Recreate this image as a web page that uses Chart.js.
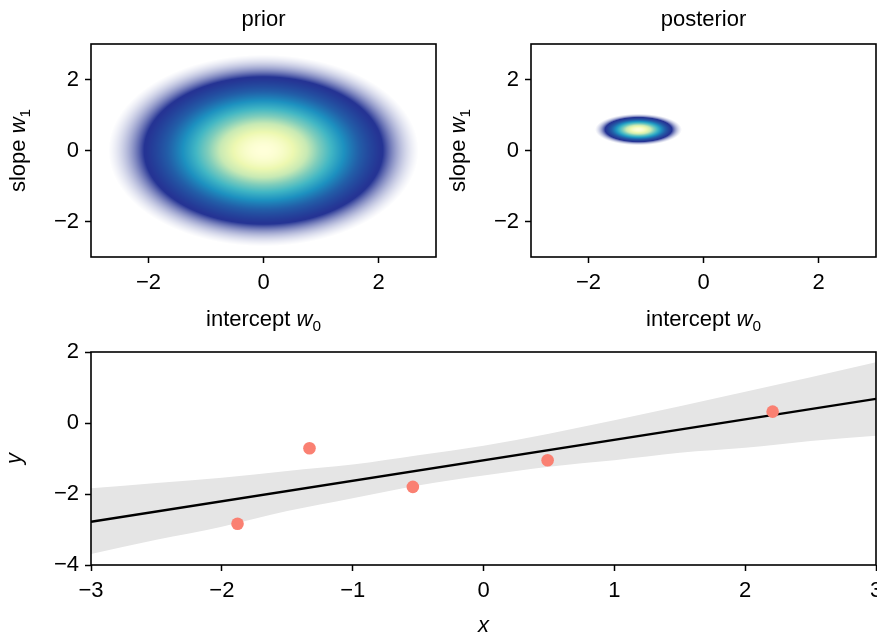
<!DOCTYPE html>
<html><head><meta charset="utf-8">
<script src="https://cdn.jsdelivr.net/npm/chart.js@4.4.0/dist/chart.umd.min.js"></script>
<style>
html,body{margin:0;padding:0;background:#fff;}
body{width:877px;height:637px;position:relative;overflow:hidden;}
canvas{position:absolute;}
</style></head><body>
<canvas id="c1" width="450" height="340" style="left:0;top:0"></canvas>
<canvas id="c2" width="454" height="340" style="left:437px;top:0"></canvas>
<canvas id="c3" width="891" height="297" style="left:0;top:340px"></canvas>
<script>
// ---------------- data ----------------
const wTicks = [-2, 0, 2];
const wRange = [-3, 3];
const priorMean = [0, 0];
const priorStd = [1, 1];
const posteriorMean = [-1.13, 0.59];
const posteriorStd = [0.28, 0.165];

const xTicks = [-3, -2, -1, 0, 1, 2, 3];
const yTicks = [-4, -2, 0, 2];
const xRange = [-3, 3];
const yRange = [-4, 2];

const obsX = [-1.88, -1.33, -0.54, 0.49, 2.21];
const obsY = [-2.84, -0.71, -1.80, -1.05, 0.32];

const fitX = [-3, 3];
const fitY = [-2.78, 0.68];

const bandX     = [-3, -2.5, -2, -1.5, -1, -0.5, 0, 0.5, 1, 1.5, 2, 2.5, 3];
const bandUpper = [-1.84, -1.69, -1.54, -1.35, -1.17, -0.91, -0.64, -0.30, 0.08, 0.47, 0.88, 1.29, 1.71];
const bandLower = [-3.69, -3.29, -2.92, -2.48, -2.12, -1.76, -1.48, -1.23, -1.05, -0.84, -0.70, -0.51, -0.36];

// colormap (YlGnBu, reversed: high density = light yellow)
const cmapStops = ['#ffffd9', '#edf8b1', '#c7e9b4', '#7fcdbb', '#41b6c4', '#1d91c0', '#225ea8', '#253494'];

// ---------------- helpers ----------------
const FONT = '"Liberation Sans", Arial, Helvetica, sans-serif';
const FS = 22;
Chart.defaults.font.family = FONT;
Chart.defaults.font.size = FS;
Chart.defaults.color = '#000';

function hex2rgb(h){ return [parseInt(h.slice(1,3),16), parseInt(h.slice(3,5),16), parseInt(h.slice(5,7),16)]; }
const stopRGB = cmapStops.map(hex2rgb);
function colorFor(p){
  let s = (1 - p) / 0.125;
  if (s < 0) s = 0;
  if (s > stopRGB.length - 1) s = stopRGB.length - 1;
  const i = Math.min(Math.floor(s), stopRGB.length - 2);
  const f = s - i;
  const a = stopRGB[i], b = stopRGB[i+1];
  const c = [0,1,2].map(k => a[k] + (b[k]-a[k]) * f);
  let alpha = Math.max(0, Math.min(1, (p - 0.026) / 0.09));
  alpha = Math.pow(alpha, 1.1);
  return {alpha, rgb: c.map(v => Math.round(255 + (v - 255) * alpha))};
}
// one cell per screen pixel of the 345 x 213 plot area
const NX = 345, NY = 213;
function buildCells(mean, std){
  const pts = [], cols = [];
  for (let i = 0; i < NX; i++){
    for (let j = 0; j < NY; j++){
      const x = wRange[0] + (i + 0.5) * (wRange[1]-wRange[0]) / NX;
      const y = wRange[0] + (j + 0.5) * (wRange[1]-wRange[0]) / NY;
      const dx = (x - mean[0]) / std[0], dy = (y - mean[1]) / std[1];
      const p = Math.exp(-0.5 * (dx*dx + dy*dy));
      const c = colorFor(p);
      if (c.alpha < 0.006) continue;
      pts.push({x, y});
      cols.push('rgb(' + c.rgb.join(',') + ')');
    }
  }
  return {pts, cols};
}
function fmt(v){ return v < 0 ? '\u2212' + (-v) : String(v); }

function axis(pos, range, ticksArr, fitSize){
  return {
    type: 'linear', position: pos, min: range[0], max: range[1],
    afterBuildTicks: s => { s.ticks = ticksArr.map(v => ({value: v})); },
    afterFit: s => {
      if (pos === 'left') s.width = fitSize; else s.height = fitSize;
      s.paddingLeft = 0; s.paddingRight = 0; s.paddingTop = 0; s.paddingBottom = 0;
    },
    grid: {display: true, drawOnChartArea: false, drawTicks: true, tickLength: 6, tickWidth: 1.5, tickColor: '#000'},
    border: {display: false},
    ticks: {color: '#000', font: {family: FONT, size: FS}, padding: pos === 'left' ? 6 : 7,
            autoSkip: false, maxRotation: 0, minRotation: 0, callback: v => fmt(v)}
  };
}

const framePlugin = {
  id: 'frame',
  afterDatasetsDraw(chart){
    const {ctx, chartArea: a} = chart;
    ctx.save();
    ctx.strokeStyle = '#000'; ctx.lineWidth = 1.6;
    ctx.strokeRect(a.left, a.top, a.right - a.left, a.bottom - a.top);
    ctx.restore();
  }
};

const titlePlugin = {
  id: 'mtitles',
  afterDraw(chart, args, opts){
    const ctx = chart.ctx, a = chart.chartArea;
    (opts.items || []).forEach(it => {
      ctx.save();
      const runs = it.runs.map(([t, st]) => {
        const size = st === 's' ? FS * 0.7 : FS;
        const font = (st === 'i' ? 'italic ' : '') + size + 'px ' + FONT;
        ctx.font = font;
        return {t, st, font, w: ctx.measureText(t).width};
      });
      const total = runs.reduce((s, r) => s + r.w, 0);
      if (it.anchor === 'left'){
        ctx.translate(a.left - it.offset, (a.top + a.bottom) / 2);
        ctx.rotate(-Math.PI / 2);
      } else if (it.anchor === 'top'){
        ctx.translate((a.left + a.right) / 2, a.top - it.offset);
      } else {
        ctx.translate((a.left + a.right) / 2, a.bottom + it.offset);
      }
      ctx.fillStyle = '#000';
      ctx.textBaseline = 'alphabetic';
      ctx.textAlign = 'left';
      let x = -total / 2;
      runs.forEach(r => {
        ctx.font = r.font;
        ctx.fillText(r.t, x, r.st === 's' ? FS * 0.22 : 0);
        x += r.w;
      });
      ctx.restore();
    });
  }
};

function heatChart(id, cells, title, yWidth, padRight){
  return new Chart(document.getElementById(id), {
    type: 'scatter',
    data: {datasets: [{
      data: cells.pts, pointBackgroundColor: cells.cols, pointRadius: 0.75, pointHoverRadius: 0.75,
      pointStyle: 'rect', pointBorderWidth: 0, clip: 0
    }]},
    options: {
      responsive: false, animation: false, events: [],
      layout: {padding: {left: 0, top: 44, right: padRight, bottom: 0}},
      scales: {
        x: axis('bottom', wRange, wTicks, 83),
        y: axis('left', wRange, wTicks, yWidth)
      },
      plugins: {
        legend: {display: false}, tooltip: {enabled: false},
        mtitles: {items: [
          {anchor: 'top', offset: 18, runs: [[title, 'n']]},
          {anchor: 'bottom', offset: 69, runs: [['intercept ', 'n'], ['w', 'i'], ['0', 's']]},
          {anchor: 'left', offset: 66, runs: [['slope ', 'n'], ['w', 'i'], ['1', 's']]}
        ]}
      }
    },
    plugins: [framePlugin, titlePlugin]
  });
}

heatChart('c1', buildCells(priorMean, priorStd), 'prior', 91, 14);
heatChart('c2', buildCells(posteriorMean, posteriorStd), 'posterior', 94, 15);

new Chart(document.getElementById('c3'), {
  type: 'line',
  data: {datasets: [
    {type: 'scatter', data: obsX.map((x, i) => ({x, y: obsY[i]})), pointRadius: 6.3, pointHoverRadius: 6.3,
     pointBackgroundColor: '#fa8072', pointBorderWidth: 0, clip: false},
    {data: fitX.map((x, i) => ({x, y: fitY[i]})), borderColor: '#000', borderWidth: 2.4, pointRadius: 0, fill: false},
    {data: bandX.map((x, i) => ({x, y: bandUpper[i]})), borderWidth: 0, pointRadius: 0,
     backgroundColor: '#e5e5e5', fill: '+1', cubicInterpolationMode: 'monotone'},
    {data: bandX.map((x, i) => ({x, y: bandLower[i]})), borderWidth: 0, pointRadius: 0,
     fill: false, cubicInterpolationMode: 'monotone'}
  ]},
  options: {
    responsive: false, animation: false, events: [],
    layout: {padding: {left: 0, top: 12, right: 15, bottom: 0}},
    scales: {
      x: axis('bottom', xRange, xTicks, 72),
      y: axis('left', yRange, yTicks, 91)
    },
    plugins: {
      legend: {display: false}, tooltip: {enabled: false},
      mtitles: {items: [
        {anchor: 'bottom', offset: 67, runs: [['x', 'i']]},
        {anchor: 'left', offset: 70, runs: [['y', 'i']]}
      ]}
    }
  },
  plugins: [framePlugin, titlePlugin]
});
</script>
</body></html>
